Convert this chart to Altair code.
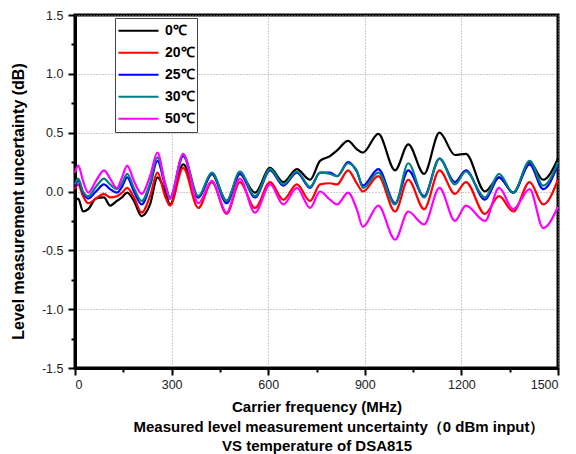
import altair as alt
import pandas as pd

# carrier frequency grid (MHz)
freq = [0, 10, 25, 41, 65, 90, 109, 130, 146, 162, 183, 207, 233, 256, 280, 295,
        336, 383, 425, 471, 512, 559, 606, 647, 689, 730, 761, 792, 814, 848, 875,
        894, 942, 994, 1035, 1084, 1132, 1180, 1214, 1273, 1317, 1361, 1412, 1454, 1500]

# level measurement uncertainty (dB) per temperature
t0 = [-0.08, -0.06, -0.17, -0.15, -0.06, -0.05, -0.12, -0.08, -0.05, -0.01, -0.08, -0.21,
      -0.11, 0.12, 0.00, -0.11, 0.23, -0.05, 0.15, -0.08, 0.15, -0.01, 0.20, 0.08, 0.19,
      0.10, 0.26, 0.30, 0.35, 0.43, 0.36, 0.33, 0.49, 0.18, 0.40, 0.15, 0.50, 0.31, 0.32,
      0.00, 0.12, -0.01, 0.25, 0.10, 0.28]
t20 = [0.02, 0.06, -0.04, -0.10, -0.06, -0.02, -0.05, -0.04, -0.01, 0.03, -0.05, -0.18,
       -0.04, 0.16, -0.04, -0.12, 0.20, -0.14, 0.08, -0.19, 0.08, -0.14, 0.08, -0.07, 0.06,
       -0.08, 0.06, 0.07, 0.06, 0.18, 0.07, 0.00, 0.13, -0.17, 0.10, -0.15, 0.18, -0.02, 0.08,
       -0.19, -0.04, -0.17, 0.08, -0.11, 0.10]
t25 = [0.04, 0.09, -0.01, -0.06, 0.00, 0.06, 0.02, -0.01, 0.04, 0.12, 0.00, -0.11,
       0.05, 0.26, 0.05, -0.06, 0.30, -0.05, 0.15, -0.10, 0.15, -0.05, 0.18, 0.05, 0.16,
       0.03, 0.16, 0.16, 0.13, 0.25, 0.17, 0.05, 0.19, -0.10, 0.18, -0.04, 0.28, 0.08, 0.18,
       -0.07, 0.12, -0.01, 0.23, 0.02, 0.23]
t30 = [0.06, 0.11, 0.00, -0.04, 0.04, 0.11, 0.06, 0.02, 0.07, 0.15, 0.03, -0.08,
       0.07, 0.29, 0.07, -0.05, 0.31, -0.04, 0.16, -0.08, 0.17, -0.04, 0.19, 0.06, 0.17,
       0.04, 0.16, 0.15, 0.13, 0.24, 0.18, 0.03, 0.16, -0.11, 0.24, -0.05, 0.28, 0.06, 0.17,
       -0.05, 0.15, -0.01, 0.26, 0.05, 0.25]
t50 = [0.16, 0.22, 0.09, -0.01, 0.09, 0.18, 0.11, 0.03, 0.12, 0.22, 0.09, -0.02,
       0.13, 0.33, 0.06, -0.06, 0.32, -0.10, 0.09, -0.18, 0.11, -0.18, 0.06, -0.11, 0.03,
       -0.14, 0.00, -0.07, -0.11, -0.01, -0.15, -0.30, -0.12, -0.41, -0.17, -0.28, 0.03,
       -0.25, -0.12, -0.25, 0.03, -0.15, 0.02, -0.31, -0.13]

temps = ["0℃", "20℃", "25℃", "30℃", "50℃"]
colors = ["#000000", "#ff0000", "#0000ff", "#008080", "#ff00ff"]

rows = []
for name, vals in zip(temps, [t0, t20, t25, t30, t50]):
    for f, v in zip(freq, vals):
        rows.append({"freq": f, "value": v, "temp": name})
df = pd.DataFrame(rows)

font = "Liberation Sans"
# blank (non-whitespace) glyphs push the second caption line to the right
pad = "\u2800" * 4
major_y = "abs(datum.value * 2 - round(datum.value * 2)) < 0.01"

chart = alt.Chart(df).mark_line(interpolate="monotone", strokeWidth=2.2).encode(
    x=alt.X("freq:Q").scale(domain=[0, 1500], nice=False).axis(
        values=list(range(0, 1501, 150)),
        labelExpr="datum.value % 300 == 0 ? datum.label : ''",
        format="d",
        tickSize={"condition": {"test": "datum.value % 300 == 0", "value": 7}, "value": 4},
        gridOpacity={"condition": {"test": "datum.value % 300 == 0", "value": 1}, "value": 0},
        title=["Carrier frequency (MHz)",
               pad + "Measured level measurement uncertainty（0 dBm input）",
               "VS temperature of DSA815"],
        titleFontSize=15,
        titleLineHeight=19.5,
        titlePadding=9,
    ),
    y=alt.Y("value:Q").scale(domain=[-1.5, 1.5], nice=False).axis(
        values=[-1.5 + 0.25 * i for i in range(13)],
        labelExpr=major_y + " ? (datum.value < 0 ? '-' + format(-datum.value, '.1f') : format(datum.value, '.1f')) : ''",
        tickSize={"condition": {"test": major_y, "value": 7}, "value": 4},
        gridOpacity={"condition": {"test": major_y, "value": 1}, "value": 0},
        labelPadding=5,
        title="Level measurement uncertainty (dB)",
        titleFontSize=16,
        titleX=-57,
        titleY=186,
        titleBaseline="middle",
    ),
    color=alt.Color("temp:N").scale(domain=temps, range=colors).sort(temps).legend(
        title=None,
        orient="none",
        legendX=40,
        legendY=3,
        symbolType="stroke",
        symbolSize=1600,
        symbolStrokeWidth=2.2,
        clipHeight=21.5,
        rowPadding=0,
        padding=2,
        labelOffset=5,
        labelFont=font,
        labelFontSize=14,
        labelFontWeight="bold",
        labelColor="#000000",
        strokeColor="#444444",
        fillColor="#ffffff",
    ),
).properties(
    width=483,
    height=353,
    autosize=alt.AutoSizeParams(type="none"),
    padding={"left": 67, "top": 7, "right": 10, "bottom": 90},
).configure_view(
    stroke="#000000", strokeWidth=3
).configure_axis(
    domainColor="#000000",
    domainWidth=3,
    tickColor="#000000",
    tickWidth=2,
    grid=True,
    gridColor="#999999",
    gridDash=[1, 2],
    gridWidth=1,
    labelFont=font,
    labelFontSize=12.5,
    labelColor="#222222",
    labelPadding=3,
    titleFont=font,
    titleFontSize=13,
    titleFontWeight="bold",
    titleColor="#000000",
)

chart.save("out.html", embed_options={"renderer": "svg", "actions": False})
